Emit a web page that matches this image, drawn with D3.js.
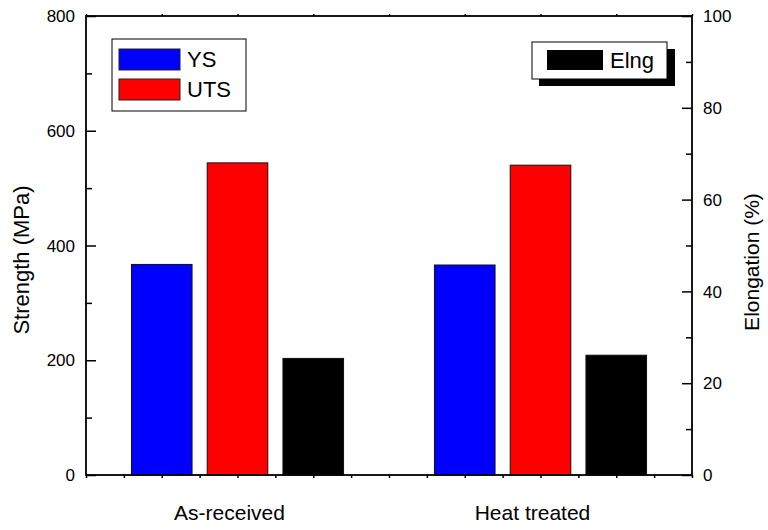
<!DOCTYPE html>
<html>
<head>
<meta charset="utf-8">
<script src="https://cdn.jsdelivr.net/npm/d3@7"></script>
<style>
  body { margin: 0; background: #fff; }
  svg { font-family: "Liberation Sans", Arial, sans-serif; }
</style>
</head>
<body>
<svg id="chart" width="768" height="530"></svg>
<script>
// data
var categories = ["As-received", "Heat treated"]
var ysValues = [367, 366]        // MPa
var utsValues = [544, 540]       // MPa
var elngValues = [25.4, 26.1]    // %
var leftTicks = [0, 200, 400, 600, 800]
var rightTicks = [0, 20, 40, 60, 80, 100]

var svg = d3.select('svg#chart')
var margin = {left: 86, right: 76, top: 16, bottom: 55}
var width = 768, height = 530

// x is a plain slot axis, 16 slots, groups at slot 4 and 12
var x = d3.scaleLinear()
    .domain([0, 16])
    .range([margin.left, width - margin.right])
var yL = d3.scaleLinear()
    .domain([0, 800])
    .range([height - margin.bottom, margin.top])
var yR = d3.scaleLinear()
    .domain([0, 100])
    .range([height - margin.bottom, margin.top])

var groupX = (d, i) => 4 + 8 * i
var barW = x(1.6) - x(0)

var series = [
  {name: "YS", values: ysValues, color: "#0000ff", off: -2, scale: yL},
  {name: "UTS", values: utsValues, color: "#ff0000", off: 0, scale: yL},
  {name: "Elng", values: elngValues, color: "#000000", off: 2, scale: yR}
]

// bars
series.forEach(s => {
  svg.append("g")
      .selectAll("rect")
    .data(s.values)
    .enter()
    .append("rect")
      .attr("x", (d, i) => x(groupX(d, i) + s.off) - barW / 2)
      .attr("y", d => s.scale(d))
      .attr("width", barW)
      .attr("height", d => s.scale(0) - s.scale(d))
      .attr("fill", s.color)
      .attr("stroke", "#111")
      .attr("stroke-width", 1)
})

// frame axes
var bottom = height - margin.bottom
svg.append("g")
    .attr("transform", `translate(0,${bottom})`)
    .call(d3.axisBottom(x).tickValues(d3.range(0, 17)).tickSize(3).tickFormat(""))
    .call(g => g.select(".domain").remove())
svg.append("g")
    .attr("transform", `translate(0,${margin.top})`)
    .call(d3.axisTop(x).tickValues(d3.range(0, 17, 2)).tickSize(2).tickFormat(""))
    .call(g => g.select(".domain").remove())

svg.append("g")
    .attr("transform", `translate(${margin.left},0)`)
    .call(d3.axisRight(yL).tickValues(d3.range(100, 800, 200)).tickSize(6).tickFormat(""))
    .call(g => g.select(".domain").remove())
svg.append("g")
    .attr("transform", `translate(${margin.left},0)`)
    .call(d3.axisRight(yL).tickValues(leftTicks).tickSize(10).tickFormat(""))
    .call(g => g.select(".domain").remove())
svg.append("g")
    .attr("transform", `translate(${width - margin.right},0)`)
    .call(d3.axisLeft(yR).tickValues(d3.range(10, 100, 20)).tickSize(6).tickFormat(""))
    .call(g => g.select(".domain").remove())
svg.append("g")
    .attr("transform", `translate(${width - margin.right},0)`)
    .call(d3.axisLeft(yR).tickValues(rightTicks).tickSize(10).tickFormat(""))
    .call(g => g.select(".domain").remove())

svg.selectAll(".tick line").attr("stroke", "#000").attr("stroke-width", 1.5)

svg.append("rect")
    .attr("x", margin.left)
    .attr("y", margin.top)
    .attr("width", width - margin.left - margin.right)
    .attr("height", bottom - margin.top)
    .attr("fill", "none")
    .attr("stroke", "#000")
    .attr("stroke-width", 1.8)

// tick labels
svg.append("g")
    .selectAll("text")
  .data(leftTicks)
  .enter()
  .append("text")
    .attr("x", margin.left - 11)
    .attr("y", d => yL(d))
    .attr("dy", "0.36em")
    .attr("text-anchor", "end")
    .style("font-size", "17px")
    .text(d => d)
svg.append("g")
    .selectAll("text")
  .data(rightTicks)
  .enter()
  .append("text")
    .attr("x", width - margin.right + 11)
    .attr("y", d => yR(d))
    .attr("dy", "0.36em")
    .attr("text-anchor", "start")
    .style("font-size", "17px")
    .text(d => d)

svg.append("g")
    .selectAll("text")
  .data(categories)
  .enter()
  .append("text")
    .attr("x", (d, i) => x(groupX(d, i)) - 8)
    .attr("y", 520)
    .attr("text-anchor", "middle")
    .style("font-size", "21px")
    .text(d => d)

// axis titles
svg.append("text")
    .attr("transform", "translate(29,260) rotate(-90)")
    .attr("text-anchor", "middle")
    .style("font-size", "22px")
    .text("Strength (MPa)")
svg.append("text")
    .attr("transform", "translate(759,262) rotate(-90)")
    .attr("text-anchor", "middle")
    .style("font-size", "21px")
    .text("Elongation (%)")

// legend for strength
var leg1 = svg.append("g").attr("transform", "translate(112,39)")
leg1.append("rect")
    .attr("width", 134).attr("height", 72)
    .attr("fill", "#fff").attr("stroke", "#000").attr("stroke-width", 1)
series.slice(0, 2).forEach((s, i) => {
  leg1.append("rect")
      .attr("x", 7).attr("y", 10 + i * 30)
      .attr("width", 61).attr("height", 21)
      .attr("fill", s.color).attr("stroke", "#222").attr("stroke-width", 1)
  leg1.append("text")
      .attr("x", 75).attr("y", 20.5 + i * 30)
      .attr("dy", "0.36em")
      .style("font-size", "22px")
      .text(s.name)
})

// legend for elongation, with drop shadow
var leg2 = svg.append("g").attr("transform", "translate(532,42)")
leg2.append("rect")
    .attr("x", 7).attr("y", 7)
    .attr("width", 136).attr("height", 37)
    .attr("fill", "#000")
leg2.append("rect")
    .attr("width", 135).attr("height", 37)
    .attr("fill", "#fff").attr("stroke", "#000").attr("stroke-width", 1)
leg2.append("rect")
    .attr("x", 15).attr("y", 8)
    .attr("width", 56).attr("height", 20)
    .attr("fill", series[2].color)
leg2.append("text")
    .attr("x", 78).attr("y", 18)
    .attr("dy", "0.36em")
    .style("font-size", "22px")
    .text(series[2].name)
</script>
</body>
</html>
